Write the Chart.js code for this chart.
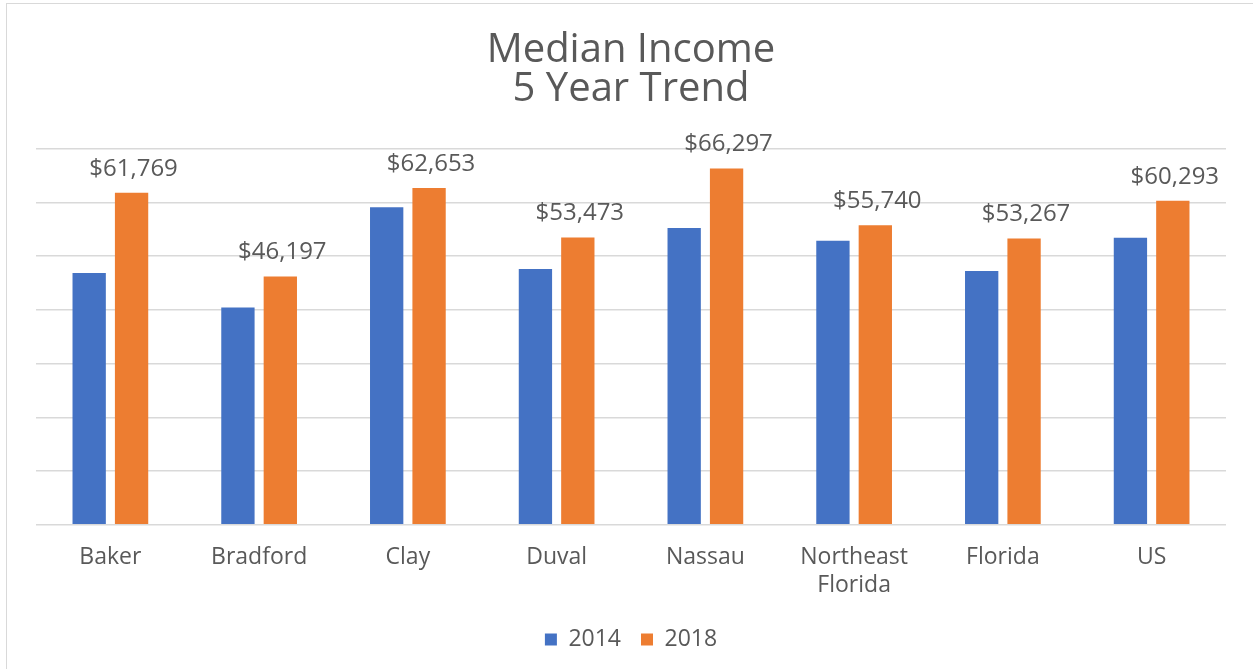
<!DOCTYPE html>
<html>
<head>
<meta charset="utf-8">
<script src="https://cdn.jsdelivr.net/npm/chart.js@4.4.1/dist/chart.umd.min.js"></script>
<style>
    html, body { margin: 0; padding: 0; background: #fff; overflow: hidden; }
    #wrap { position: relative; width: 1253px; height: 669px; }
    #frame {
        position: absolute; left: 6px; top: 3px; right: -10px; bottom: -10px;
        border-top: 1.5px solid #d9d9d9; border-left: 1.5px solid #d9d9d9;
        pointer-events: none;
    }
</style>
</head>
<body>
<div id="wrap">
    <canvas id="incomeChart" width="1253" height="669"></canvas>
    <div id="frame"></div>
</div>
<script>
const categories = ['Baker', 'Bradford', 'Clay', 'Duval', 'Nassau', ['Northeast', 'Florida'], 'Florida', 'US'];
const income2014 = [46840, 40430, 59070, 47590, 55230, 52860, 47210, 53420];
const income2018 = [61769, 46197, 62653, 53473, 66297, 55740, 53267, 60293];
const seriesNames = ['2014', '2018'];
const titleLines = ['Median Income', '5 Year Trend'];
const yMax = 70000;
const yStep = 10000;

const textColor = '#595959';
const fontFamily = "'Open Sans', sans-serif";

function formatMoney(v) {
    return '$' + v.toLocaleString('en-US');
}

// labels above the 2018 bars only
const valueLabels = {
    id: 'valueLabels',
    afterDatasetsDraw(chart) {
        const ctx = chart.ctx;
        const meta = chart.getDatasetMeta(1);
        ctx.save();
        ctx.font = '24px ' + fontFamily;
        ctx.fillStyle = textColor;
        ctx.textAlign = 'center';
        ctx.textBaseline = 'middle';
        meta.data.forEach((bar, i) => {
            ctx.fillText(formatMoney(income2018[i]), bar.x + 2, bar.y - 24);
        });
        ctx.restore();
    }
};

new Chart(document.getElementById('incomeChart'), {
    type: 'bar',
    data: {
        labels: categories,
        datasets: [
            { label: seriesNames[0], data: income2014, backgroundColor: '#4472C4' },
            { label: seriesNames[1], data: income2018, backgroundColor: '#ED7D31' }
        ]
    },
    options: {
        responsive: false,
        animation: false,
        categoryPercentage: 0.57,
        barPercentage: 0.786,
        layout: { padding: { left: 36, right: 27, top: 0, bottom: 8 } },
        scales: {
            x: {
                grid: { display: false, drawTicks: false },
                border: { display: false },
                ticks: {
                    color: textColor,
                    padding: 19,
                    font: { family: fontFamily, size: 23, lineHeight: 1.2 }
                },
                // let the labels hang a little lower without shrinking the plot
                afterFit(scale) { scale.height -= 10; }
            },
            y: {
                min: 0,
                max: yMax,
                ticks: { display: false, stepSize: yStep },
                grid: { color: '#d9d9d9', lineWidth: 1.5, drawTicks: false },
                border: { display: false }
            }
        },
        plugins: {
            title: {
                display: true,
                text: titleLines,
                color: textColor,
                font: { family: fontFamily, size: 40, weight: 'normal', lineHeight: 0.97 },
                padding: { top: 31, bottom: 40 }
            },
            legend: {
                position: 'bottom',
                labels: {
                    color: textColor,
                    boxWidth: 12,
                    boxHeight: 12,
                    padding: 20,
                    font: { family: fontFamily, size: 23 }
                }
            },
            tooltip: { enabled: false }
        }
    },
    plugins: [valueLabels]
});
</script>
</body>
</html>
